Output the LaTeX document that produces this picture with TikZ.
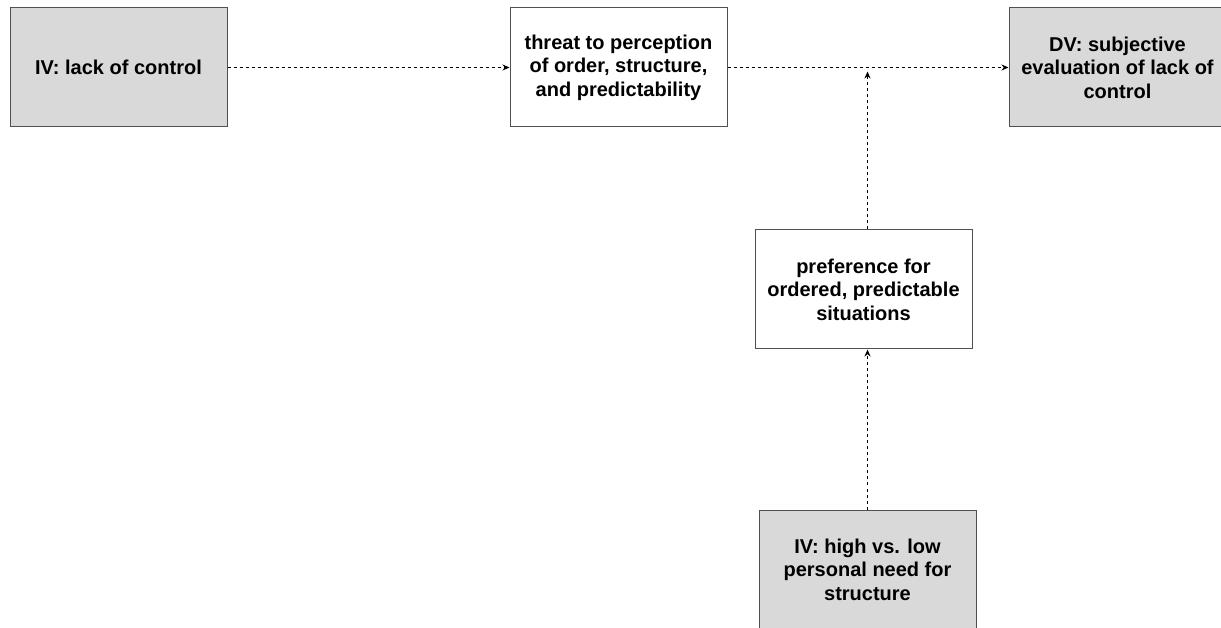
\documentclass[tikz,border=0pt]{standalone}
\usepackage{fontspec}
\setmainfont{Liberation Sans}
\usetikzlibrary{positioning,arrows.meta}
\definecolor{boxgrey}{HTML}{D9D9D9}
\definecolor{edgegrey}{HTML}{505050}

\begin{document}
\begin{tikzpicture}[x=1pt, y=1pt,
  main/.style = {draw=edgegrey, line width=1pt, minimum width=217pt, minimum height=119pt, align=center, inner sep=0pt, font=\fontsize{20}{23.5}\selectfont\bfseries},
  given/.style = {main, fill=boxgrey},
  link/.style = {line width=1.3pt, dash pattern=on 3pt off 3pt, -{Stealth[length=7pt,width=6pt]}}]
  \useasboundingbox (0,0) rectangle (1221,627);
  \node[given] (iv) at (118.5,559.5) {IV: lack of control};
  \node[main] [right=282pt of iv] (threat) {threat to perception\\of order, structure,\\and predictability};
  \node[given] [right=281pt of threat] (dv) {DV: subjective\\evaluation of lack of\\control};
  \node[given] (low) at (867.5,57.5) {IV: high vs. low\\personal need for\\structure};
  \node[main] [above=160pt of low, xshift=-4pt] (pref) {preference for\\ordered, predictable\\situations};
  \coordinate (join) at (low.north |- threat.east);
  \draw[link] (iv) -- (threat);
  \draw[link] (threat) -- (dv);
  \draw[link] (pref.north -| low.north) -- ([yshift=-4pt]join);
  \draw[link] (low) -- (low |- pref.south);
\end{tikzpicture}
\end{document}
